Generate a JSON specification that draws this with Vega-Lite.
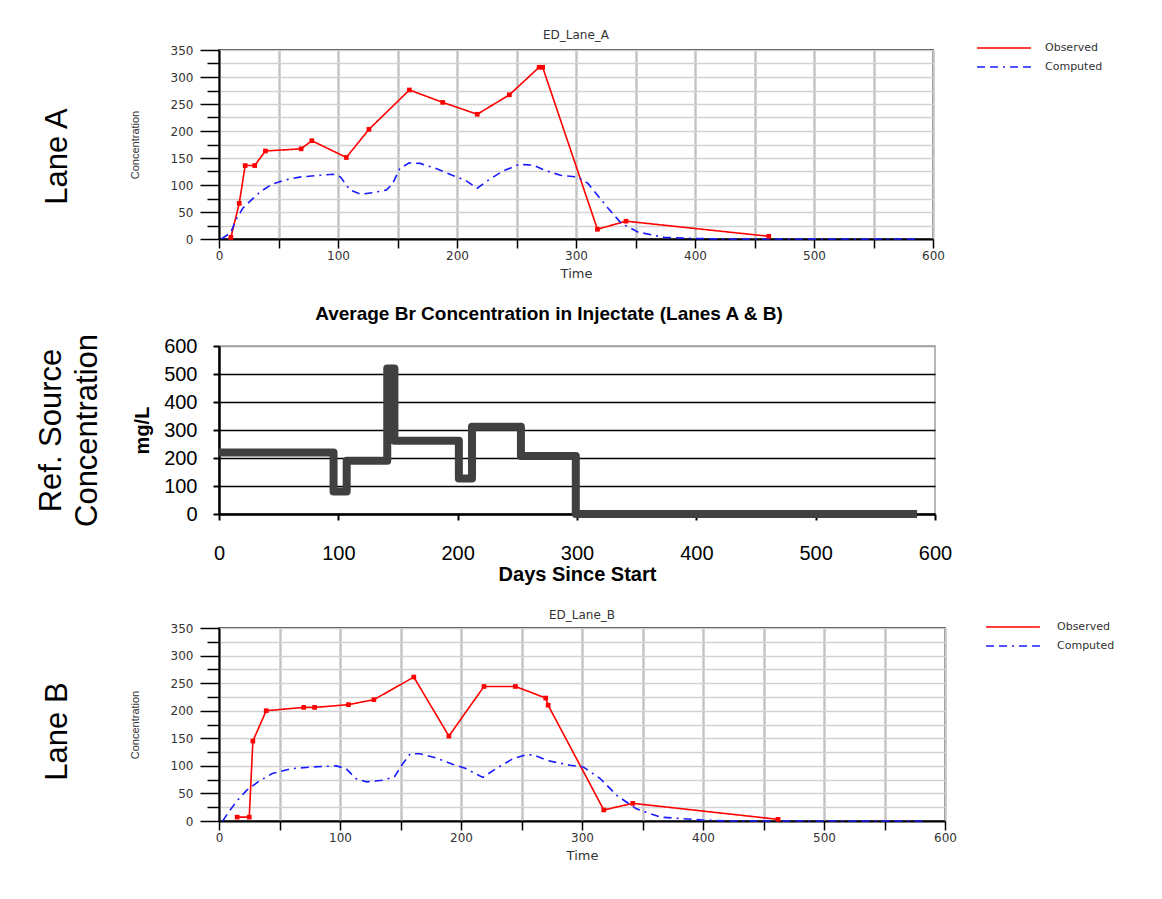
{
  "$schema": "https://vega.github.io/schema/vega-lite/v6.json",
  "background": "white",
  "padding": {"left": 30, "top": 28, "right": 0, "bottom": 0},
  "spacing": 23,
  "align": "none",
  "config": {"view": {"stroke": "#000", "strokeWidth": 1.5}},
  "resolve": {"scale": {"color": "independent", "strokeDash": "independent"}},
  "datasets": {
    "laneA": [
      {"t": 10, "c": 3, "s": "Observed"}, {"t": 17, "c": 66, "s": "Observed"}, {"t": 22, "c": 136, "s": "Observed"},
      {"t": 30, "c": 136, "s": "Observed"}, {"t": 39, "c": 163, "s": "Observed"}, {"t": 69, "c": 167, "s": "Observed"},
      {"t": 78, "c": 182, "s": "Observed"}, {"t": 107, "c": 151, "s": "Observed"}, {"t": 126, "c": 203, "s": "Observed"},
      {"t": 160, "c": 276, "s": "Observed"}, {"t": 188, "c": 253, "s": "Observed"}, {"t": 217, "c": 231, "s": "Observed"},
      {"t": 244, "c": 267, "s": "Observed"}, {"t": 269, "c": 318, "s": "Observed"}, {"t": 272, "c": 318, "s": "Observed"},
      {"t": 318, "c": 18, "s": "Observed"}, {"t": 342, "c": 33, "s": "Observed"}, {"t": 462, "c": 5, "s": "Observed"},
      {"t": 2, "c": 0, "s": "Computed"}, {"t": 10, "c": 12, "s": "Computed"}, {"t": 14, "c": 35, "s": "Computed"},
      {"t": 20, "c": 57, "s": "Computed"}, {"t": 27, "c": 72, "s": "Computed"}, {"t": 35, "c": 88, "s": "Computed"},
      {"t": 45, "c": 102, "s": "Computed"}, {"t": 57, "c": 110, "s": "Computed"}, {"t": 69, "c": 115, "s": "Computed"},
      {"t": 85, "c": 118, "s": "Computed"}, {"t": 96, "c": 120, "s": "Computed"}, {"t": 102, "c": 115, "s": "Computed"},
      {"t": 110, "c": 91, "s": "Computed"}, {"t": 119, "c": 83, "s": "Computed"}, {"t": 130, "c": 86, "s": "Computed"},
      {"t": 141, "c": 91, "s": "Computed"}, {"t": 146, "c": 103, "s": "Computed"}, {"t": 152, "c": 131, "s": "Computed"},
      {"t": 160, "c": 141, "s": "Computed"}, {"t": 169, "c": 140, "s": "Computed"}, {"t": 183, "c": 130, "s": "Computed"},
      {"t": 196, "c": 118, "s": "Computed"}, {"t": 207, "c": 109, "s": "Computed"}, {"t": 217, "c": 94, "s": "Computed"},
      {"t": 227, "c": 110, "s": "Computed"}, {"t": 238, "c": 125, "s": "Computed"}, {"t": 252, "c": 138, "s": "Computed"},
      {"t": 264, "c": 137, "s": "Computed"}, {"t": 274, "c": 127, "s": "Computed"}, {"t": 287, "c": 118, "s": "Computed"},
      {"t": 301, "c": 115, "s": "Computed"}, {"t": 310, "c": 103, "s": "Computed"}, {"t": 327, "c": 57, "s": "Computed"},
      {"t": 338, "c": 29, "s": "Computed"}, {"t": 352, "c": 13, "s": "Computed"}, {"t": 374, "c": 3, "s": "Computed"},
      {"t": 399, "c": 1, "s": "Computed"}, {"t": 426, "c": 0, "s": "Computed"}, {"t": 585, "c": 0, "s": "Computed"}
    ],
    "laneB": [
      {"t": 15, "c": 7, "s": "Observed"}, {"t": 25, "c": 7, "s": "Observed"}, {"t": 28, "c": 145, "s": "Observed"},
      {"t": 39, "c": 200, "s": "Observed"}, {"t": 70, "c": 206, "s": "Observed"}, {"t": 79, "c": 206, "s": "Observed"},
      {"t": 107, "c": 211, "s": "Observed"}, {"t": 128, "c": 220, "s": "Observed"}, {"t": 161, "c": 261, "s": "Observed"},
      {"t": 190, "c": 154, "s": "Observed"}, {"t": 219, "c": 244, "s": "Observed"}, {"t": 245, "c": 244, "s": "Observed"},
      {"t": 270, "c": 223, "s": "Observed"}, {"t": 272, "c": 210, "s": "Observed"}, {"t": 318, "c": 20, "s": "Observed"},
      {"t": 342, "c": 32, "s": "Observed"}, {"t": 462, "c": 3, "s": "Observed"},
      {"t": 3, "c": 0, "s": "Computed"}, {"t": 8, "c": 16, "s": "Computed"}, {"t": 15, "c": 37, "s": "Computed"},
      {"t": 23, "c": 56, "s": "Computed"}, {"t": 33, "c": 72, "s": "Computed"}, {"t": 44, "c": 86, "s": "Computed"},
      {"t": 60, "c": 95, "s": "Computed"}, {"t": 77, "c": 98, "s": "Computed"}, {"t": 97, "c": 100, "s": "Computed"},
      {"t": 105, "c": 95, "s": "Computed"}, {"t": 113, "c": 77, "s": "Computed"}, {"t": 122, "c": 71, "s": "Computed"},
      {"t": 135, "c": 74, "s": "Computed"}, {"t": 145, "c": 80, "s": "Computed"}, {"t": 151, "c": 101, "s": "Computed"},
      {"t": 158, "c": 122, "s": "Computed"}, {"t": 166, "c": 122, "s": "Computed"}, {"t": 180, "c": 114, "s": "Computed"},
      {"t": 193, "c": 103, "s": "Computed"}, {"t": 204, "c": 95, "s": "Computed"}, {"t": 218, "c": 79, "s": "Computed"},
      {"t": 229, "c": 95, "s": "Computed"}, {"t": 243, "c": 113, "s": "Computed"}, {"t": 254, "c": 120, "s": "Computed"},
      {"t": 260, "c": 120, "s": "Computed"}, {"t": 271, "c": 110, "s": "Computed"}, {"t": 290, "c": 101, "s": "Computed"},
      {"t": 301, "c": 98, "s": "Computed"}, {"t": 315, "c": 77, "s": "Computed"}, {"t": 329, "c": 46, "s": "Computed"},
      {"t": 345, "c": 22, "s": "Computed"}, {"t": 365, "c": 7, "s": "Computed"}, {"t": 398, "c": 2, "s": "Computed"},
      {"t": 420, "c": 0, "s": "Computed"}, {"t": 584, "c": 0, "s": "Computed"}
    ],
    "src": [
      {"t": 0, "v": 220}, {"t": 96, "v": 80}, {"t": 107, "v": 190}, {"t": 141, "v": 520}, {"t": 147, "v": 262},
      {"t": 201, "v": 127}, {"t": 212, "v": 312}, {"t": 253, "v": 207}, {"t": 299, "v": 0}, {"t": 585, "v": 0}
    ]
  },
  "vconcat": [
    {
      "data": {"name": "laneA"},
      "width": 714,
      "height": 189,
      "title": {"text": "ED_Lane_A", "font": "DejaVu Sans", "fontSize": 12, "fontWeight": "normal", "color": "#333", "offset": -2, "anchor": "middle"},
      "view": {"stroke": "#000", "strokeWidth": 1.5},
      "resolve": {"axis": {"y": "independent"}},
      "layer": [
        {
          "mark": {"type": "line", "strokeWidth": 1.6},
          "encoding": {
            "x": {"field": "t", "type": "quantitative", "scale": {"domain": [0, 600], "nice": false},
              "axis": {"title": "Time", "values": [0, 50, 100, 150, 200, 250, 300, 350, 400, 450, 500, 550, 600],
                "labelExpr": "datum.value % 100 === 0 ? datum.label : ''", "labelOverlap": false, "labelFlush": false,
                "grid": true, "gridColor": "#c4c4c4", "gridWidth": 2.5,
                "domainColor": "#000", "domainWidth": 2, "tickColor": "#000", "tickSize": 9, "tickWidth": 1.5,
                "labelFont": "DejaVu Sans", "labelFontSize": 12, "labelColor": "#333", "labelPadding": 2,
                "titleFont": "DejaVu Sans", "titleFontSize": 13, "titleColor": "#333", "titleFontWeight": "normal", "titlePadding": 6}},
            "y": {"field": "c", "type": "quantitative", "scale": {"domain": [0, 350], "nice": false},
              "axis": {"title": "Concentration", "values": [0, 25, 50, 75, 100, 125, 150, 175, 200, 225, 250, 275, 300, 325, 350],
                "labelExpr": "datum.value % 50 === 0 ? datum.label : ''", "labelOverlap": false, "labelFlush": false,
                "grid": true, "gridColor": "#d2d2d2", "gridWidth": 1.5,
                "domainColor": "#000", "domainWidth": 2, "tickColor": "#000", "tickWidth": 1.5,
                "tickSize": {"condition": {"test": "datum.value % 50 === 0", "value": 19}, "value": 12},
                "labelFont": "DejaVu Sans", "labelFontSize": 12, "labelColor": "#333", "labelPadding": 7,
                "titleFont": "Liberation Sans", "titleFontSize": 11, "titleColor": "#333", "titleFontWeight": "normal", "titlePadding": 30}},
            "color": {"field": "s", "type": "nominal", "scale": {"domain": ["Observed", "Computed"], "range": ["#ff0000", "#1a1aff"]},
              "legend": {"title": null, "orient": "none", "legendX": 777, "legendY": -10, "symbolType": "M-3.85,0L3.85,0", "symbolSize": 196, "symbolStrokeWidth": 1.5,
                "labelFont": "DejaVu Sans", "labelFontSize": 11, "labelColor": "#333", "labelOffset": 33, "rowPadding": 6}},
            "strokeDash": {"field": "s", "type": "nominal", "scale": {"domain": ["Observed", "Computed"], "range": [[1, 0], [8, 5, 8, 5, 2, 5]]},
              "legend": {"title": null, "orient": "none", "legendX": 777, "legendY": -10, "symbolType": "M-3.85,0L3.85,0", "symbolSize": 196, "symbolStrokeWidth": 1.5,
                "labelFont": "DejaVu Sans", "labelFontSize": 11, "labelColor": "#333", "labelOffset": 33, "rowPadding": 6}}
          }
        },
        {
          "transform": [{"filter": "datum.s === 'Observed'"}],
          "mark": {"type": "point", "shape": "square", "filled": true, "color": "#ff0000", "size": 22, "opacity": 1},
          "encoding": {
            "x": {"field": "t", "type": "quantitative"},
            "y": {"field": "c", "type": "quantitative",
              "axis": {"orient": "left", "title": ["", "Lane A"], "labels": false, "ticks": false, "domain": false, "grid": false,
                "titleFont": "Liberation Sans", "titleFontSize": 31, "titleFontWeight": "normal", "titleColor": "#000",
                "titleLineHeight": 10, "titlePadding": 146, "titleY": 106}}
          }
        }
      ]
    },
    {
      "data": {"name": "src"},
      "width": 716,
      "height": 168,
      "title": {"text": "Average Br Concentration in Injectate  (Lanes A & B)", "font": "Liberation Sans", "fontSize": 19, "fontWeight": "bold", "color": "#000", "offset": 9, "dx": -28, "anchor": "middle"},
      "view": {"stroke": "#a0a0a0", "strokeWidth": 1.5},
      "resolve": {"axis": {"y": "independent"}},
      "layer": [
        {
          "mark": {"type": "line", "interpolate": "step-after", "strokeWidth": 8, "color": "#404040", "strokeJoin": "round"},
          "encoding": {
            "x": {"field": "t", "type": "quantitative", "scale": {"domain": [0, 600], "nice": false},
              "axis": {"title": "Days Since Start", "values": [0, 100, 200, 300, 400, 500, 600], "grid": false, "labelOverlap": false, "labelFlush": false,
                "domainColor": "#000", "domainWidth": 2.5, "tickColor": "#000", "tickSize": 6, "tickWidth": 2,
                "labelFont": "Liberation Sans", "labelFontSize": 20, "labelColor": "#000", "labelPadding": 23,
                "titleFont": "Liberation Sans", "titleFontSize": 20, "titleColor": "#000", "titleFontWeight": "bold", "titlePadding": 1}},
            "y": {"field": "v", "type": "quantitative", "scale": {"domain": [0, 600], "nice": false},
              "axis": {"title": "mg/L", "values": [0, 100, 200, 300, 400, 500, 600], "labelOverlap": false, "labelFlush": false,
                "grid": true, "gridColor": {"condition": {"test": "datum.value === 600", "value": "#a0a0a0"}, "value": "#000"}, "gridWidth": 1.5,
                "domainColor": "#000", "domainWidth": 2.5, "tickColor": "#000", "tickSize": 6, "tickWidth": 2,
                "labelFont": "Liberation Sans", "labelFontSize": 20, "labelColor": "#000", "labelPadding": 16,
                "titleFont": "Liberation Sans", "titleFontSize": 20, "titleColor": "#000", "titleFontWeight": "bold", "titlePadding": 11}}
          }
        },
        {
          "mark": {"type": "point", "opacity": 0},
          "encoding": {
            "x": {"field": "t", "type": "quantitative"},
            "y": {"field": "v", "type": "quantitative",
              "axis": {"orient": "left", "title": ["Ref. Source", "Concentration"], "labels": false, "ticks": false, "domain": false, "grid": false,
                "titleFont": "Liberation Sans", "titleFontSize": 31, "titleFontWeight": "normal", "titleColor": "#000",
                "titleLineHeight": 36, "titlePadding": 116}}
          }
        }
      ]
    },
    {
      "data": {"name": "laneB"},
      "width": 726,
      "height": 193,
      "title": {"text": "ED_Lane_B", "font": "DejaVu Sans", "fontSize": 12, "fontWeight": "normal", "color": "#333", "offset": -3, "anchor": "middle"},
      "view": {"stroke": "#000", "strokeWidth": 1.5},
      "resolve": {"axis": {"y": "independent"}},
      "layer": [
        {
          "mark": {"type": "line", "strokeWidth": 1.6},
          "encoding": {
            "x": {"field": "t", "type": "quantitative", "scale": {"domain": [0, 600], "nice": false},
              "axis": {"title": "Time", "values": [0, 50, 100, 150, 200, 250, 300, 350, 400, 450, 500, 550, 600],
                "labelExpr": "datum.value % 100 === 0 ? datum.label : ''", "labelOverlap": false, "labelFlush": false,
                "grid": true, "gridColor": "#c4c4c4", "gridWidth": 2.5,
                "domainColor": "#000", "domainWidth": 2, "tickColor": "#000", "tickSize": 9, "tickWidth": 1.5,
                "labelFont": "DejaVu Sans", "labelFontSize": 12, "labelColor": "#333", "labelPadding": 2,
                "titleFont": "DejaVu Sans", "titleFontSize": 13, "titleColor": "#333", "titleFontWeight": "normal", "titlePadding": 6}},
            "y": {"field": "c", "type": "quantitative", "scale": {"domain": [0, 350], "nice": false},
              "axis": {"title": "Concentration", "values": [0, 25, 50, 75, 100, 125, 150, 175, 200, 225, 250, 275, 300, 325, 350],
                "labelExpr": "datum.value % 50 === 0 ? datum.label : ''", "labelOverlap": false, "labelFlush": false,
                "grid": true, "gridColor": "#d2d2d2", "gridWidth": 1.5,
                "domainColor": "#000", "domainWidth": 2, "tickColor": "#000", "tickWidth": 1.5,
                "tickSize": {"condition": {"test": "datum.value % 50 === 0", "value": 19}, "value": 12},
                "labelFont": "DejaVu Sans", "labelFontSize": 12, "labelColor": "#333", "labelPadding": 7,
                "titleFont": "Liberation Sans", "titleFontSize": 11, "titleColor": "#333", "titleFontWeight": "normal", "titlePadding": 30}},
            "color": {"field": "s", "type": "nominal", "scale": {"domain": ["Observed", "Computed"], "range": ["#ff0000", "#1a1aff"]},
              "legend": {"title": null, "orient": "none", "legendX": 786, "legendY": -9, "symbolType": "M-3.85,0L3.85,0", "symbolSize": 196, "symbolStrokeWidth": 1.5,
                "labelFont": "DejaVu Sans", "labelFontSize": 11, "labelColor": "#333", "labelOffset": 36, "rowPadding": 6}},
            "strokeDash": {"field": "s", "type": "nominal", "scale": {"domain": ["Observed", "Computed"], "range": [[1, 0], [8, 5, 8, 5, 2, 5]]},
              "legend": {"title": null, "orient": "none", "legendX": 786, "legendY": -9, "symbolType": "M-3.85,0L3.85,0", "symbolSize": 196, "symbolStrokeWidth": 1.5,
                "labelFont": "DejaVu Sans", "labelFontSize": 11, "labelColor": "#333", "labelOffset": 36, "rowPadding": 6}}
          }
        },
        {
          "transform": [{"filter": "datum.s === 'Observed'"}],
          "mark": {"type": "point", "shape": "square", "filled": true, "color": "#ff0000", "size": 22, "opacity": 1},
          "encoding": {
            "x": {"field": "t", "type": "quantitative"},
            "y": {"field": "c", "type": "quantitative",
              "axis": {"orient": "left", "title": ["", "Lane B"], "labels": false, "ticks": false, "domain": false, "grid": false,
                "titleFont": "Liberation Sans", "titleFontSize": 31, "titleFontWeight": "normal", "titleColor": "#000",
                "titleLineHeight": 10, "titlePadding": 146, "titleY": 103}}
          }
        }
      ]
    }
  ]
}
